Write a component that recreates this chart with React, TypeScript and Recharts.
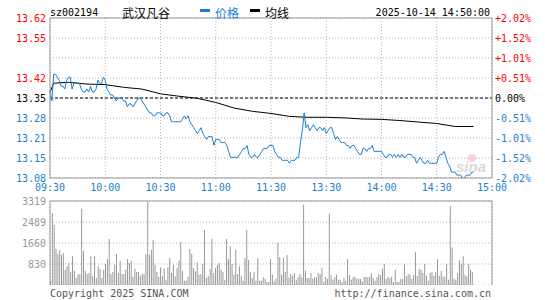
import React from 'react';
import {
  LineChart,
  Line,
  BarChart,
  Bar,
  XAxis,
  YAxis,
  CartesianGrid,
  ReferenceLine,
} from 'recharts';

const stockCode = 'sz002194';
const stockName = '武汉凡谷';
const stamp = '2025-10-14 14:50:00';
const prevClose = 13.35;
const maxPct = 2.02;

const pctTicks = [2.02, 1.515, 1.01, 0.505, 0, -0.505, -1.01, -1.515, -2.02];
// the third grid line carries no price label in the source
const priceLabels = ['13.62', '13.55', '', '13.42', '13.35', '13.28', '13.21', '13.15', '13.08'];
const pctLabels = ['+2.02%', '+1.52%', '+1.01%', '+0.51%', '0.00%', '-0.51%', '-1.01%', '-1.52%', '-2.02%'];

const timeTicks = [0, 30, 60, 90, 120, 150, 180, 210, 240];
const timeLabels = ['09:30', '10:00', '10:30', '11:00', '11:30', '13:30', '14:00', '14:30', '15:00'];

// one value per minute, 09:30 .. 14:50
const price = [
  13.37, 13.34, 13.43, 13.43, 13.42, 13.41, 13.39, 13.39, 13.38, 13.41,
  13.42, 13.42, 13.38, 13.40, 13.40, 13.40, 13.40, 13.38, 13.37, 13.37,
  13.38, 13.37, 13.39, 13.37, 13.37, 13.38, 13.41, 13.40, 13.40, 13.42,
  13.41, 13.38, 13.37, 13.36, 13.36, 13.35, 13.34, 13.35, 13.35, 13.35,
  13.34, 13.34, 13.32, 13.33, 13.33, 13.32, 13.33, 13.34, 13.35, 13.35,
  13.34, 13.33, 13.32, 13.31, 13.30, 13.30, 13.29, 13.29, 13.30, 13.30,
  13.30, 13.29, 13.29, 13.30, 13.30, 13.29, 13.27, 13.27, 13.27, 13.27,
  13.27, 13.27, 13.28, 13.29, 13.28, 13.29, 13.27, 13.26, 13.25, 13.24,
  13.23, 13.24, 13.25, 13.23, 13.22, 13.21, 13.22, 13.22, 13.22, 13.19,
  13.21, 13.21, 13.21, 13.20, 13.20, 13.20, 13.19, 13.17, 13.15, 13.15,
  13.15, 13.15, 13.15, 13.16, 13.17, 13.18, 13.18, 13.19, 13.16, 13.15,
  13.15, 13.16, 13.15, 13.15, 13.16, 13.17, 13.18, 13.18, 13.18, 13.19,
  13.19, 13.19, 13.17, 13.16, 13.15, 13.15, 13.14, 13.14, 13.14, 13.14,
  13.13, 13.14, 13.14, 13.14, 13.15, 13.15, 13.20, 13.24, 13.30, 13.25,
  13.26, 13.24, 13.25, 13.26, 13.25, 13.24, 13.25, 13.25, 13.24, 13.25,
  13.23, 13.24, 13.25, 13.25, 13.23, 13.21, 13.22, 13.21, 13.20, 13.20,
  13.20, 13.19, 13.19, 13.18, 13.19, 13.19, 13.18, 13.17, 13.16, 13.16,
  13.18, 13.18, 13.17, 13.18, 13.18, 13.19, 13.17, 13.17, 13.17, 13.17,
  13.17, 13.16, 13.15, 13.15, 13.16, 13.16, 13.15, 13.16, 13.15, 13.16,
  13.15, 13.16, 13.15, 13.15, 13.16, 13.16, 13.16, 13.15, 13.15, 13.13,
  13.14, 13.15, 13.14, 13.13, 13.13, 13.14, 13.13, 13.13, 13.13, 13.13,
  13.13, 13.15, 13.16, 13.16, 13.17, 13.15, 13.13, 13.12, 13.10, 13.10,
  13.10, 13.09, 13.09, 13.09, 13.08, 13.08, 13.09, 13.09, 13.09, 13.10,
  13.10,
];

// average line, read at a few minutes
const avgIdx = [0, 2, 10, 20, 30, 40, 50, 60, 70, 80, 90, 100, 110, 120, 130, 140, 150, 160, 170, 180, 190, 200, 210, 220, 230];
const avgVal = [
  13.37, 13.40, 13.403, 13.397, 13.395, 13.386, 13.38, 13.364, 13.356, 13.349,
  13.335, 13.316, 13.305, 13.298, 13.288, 13.285, 13.285, 13.283, 13.279, 13.278,
  13.274, 13.269, 13.264, 13.254, 13.254,
];

const volume = [
  171, 2845, 2384, 1436, 1225, 1383, 1198, 1264, 606, 737,
  869, 514, 1133, 566, 277, 408, 435, 3016, 1356, 566,
  435, 474, 1133, 342, 1133, 277, 737, 632, 277, 606,
  830, 1027, 1817, 435, 514, 803, 1225, 474, 961, 435,
  435, 606, 1027, 869, 961, 329, 645, 514, 514, 342,
  435, 435, 1225, 3279, 1198, 1396, 1778, 803, 514, 329,
  698, 342, 645, 211, 698, 1067, 474, 803, 342, 672,
  961, 1699, 566, 171, 171, 329, 1422, 1225, 672, 540,
  896, 408, 435, 830, 2173, 277, 342, 632, 1817, 474,
  672, 803, 869, 606, 514, 211, 1817, 1027, 1528, 830,
  408, 1383, 435, 737, 342, 171, 1067, 2173, 988, 514,
  277, 514, 171, 1067, 171, 171, 303, 250, 118, 118,
  1027, 408, 145, 250, 1659, 1093, 408, 1067, 514, 1185,
  303, 435, 369, 474, 211, 303, 435, 303, 3174, 566,
  277, 277, 474, 250, 303, 303, 474, 435, 672, 118,
  316, 237, 2818, 382, 211, 303, 408, 211, 211, 118,
  277, 171, 1027, 382, 211, 303, 329, 250, 250, 237,
  145, 329, 329, 303, 329, 461, 277, 171, 303, 435,
  382, 645, 830, 250, 329, 277, 329, 118, 606, 118,
  118, 237, 237, 830, 342, 435, 408, 237, 408, 1304,
  369, 645, 606, 474, 830, 369, 171, 474, 514, 369,
  514, 1027, 369, 566, 342, 316, 830, 211, 3108, 1488,
  250, 211, 474, 988, 830, 1133, 408, 342, 830, 606,
  514,
];
const volTicks = [830, 1660, 2489, 3319];

const MONO = '"DejaVu Sans Mono", "Liberation Mono", monospace';
const CJK = '"Noto Sans CJK SC", sans-serif';
const BLUE = '#1a7fd0';
const RED = '#ff0000';
const GRID = '#b4b4b4';
const FRAME = '#999999';

const priceMin = prevClose * (1 - maxPct / 100);
const priceMax = prevClose * (1 + maxPct / 100);
const priceTicks = pctTicks.map((p) => prevClose * (1 + p / 100));

const mainData = price.map((p, i) => {
  const k = avgIdx.indexOf(i);
  return { i, price: p, avg: k >= 0 ? avgVal[k] : null };
});
const volData = Array.from({ length: 241 }, (_, i) => ({
  i,
  v: i < volume.length ? volume[i] : null,
}));

const pctColor = (p: number) => (p > 0 ? RED : p < 0 ? BLUE : '#000');

function PriceTick(props: any) {
  const { x, y, payload } = props;
  const k = priceTicks.findIndex((t) => Math.abs(t - payload.value) < 1e-6);
  if (k < 0 || !priceLabels[k]) return null;
  return (
    <text x={x} y={y} dy={4} textAnchor="end" fill={pctColor(pctTicks[k])} fontSize={10} fontFamily={MONO}>
      {priceLabels[k]}
    </text>
  );
}

function PctTick(props: any) {
  const { x, y, payload } = props;
  const k = pctTicks.indexOf(payload.value);
  if (k < 0) return null;
  return (
    <text x={x} y={y} dy={4} textAnchor="start" fill={pctColor(pctTicks[k])} fontSize={10} fontFamily={MONO}>
      {pctLabels[k]}
    </text>
  );
}

function TimeTick(props: any) {
  const { x, y, payload } = props;
  const k = timeTicks.indexOf(payload.value);
  return (
    <text x={x} y={y} dy={8} textAnchor="middle" fill={BLUE} fontSize={10} fontFamily={MONO}>
      {timeLabels[k]}
    </text>
  );
}

function VolTick(props: any) {
  const { x, y, payload } = props;
  return (
    <text x={x} y={y} dy={4} textAnchor="end" fill="#999" fontSize={10} fontFamily={MONO}>
      {payload.value}
    </text>
  );
}

export default function App() {
  return (
    <div style={{ position: 'absolute', left: 0, top: 0, width: 545, height: 300, background: '#fff' }}>
      <div style={{ position: 'absolute', left: 0, top: 0 }}>
        <LineChart width={545} height={200} data={mainData} margin={{ top: 18, right: 0, bottom: 0, left: 0 }}>
          <CartesianGrid yAxisId="price" stroke={GRID} strokeDasharray="1 2" />
          <XAxis
            dataKey="i"
            type="number"
            domain={[0, 240]}
            ticks={timeTicks}
            interval={0}
            height={22}
            tickLine={false}
            tickSize={0}
            tickMargin={5}
            axisLine={{ stroke: FRAME }}
            tick={<TimeTick />}
          />
          <YAxis
            yAxisId="price"
            domain={[priceMin, priceMax]}
            allowDataOverflow
            ticks={priceTicks}
            interval={0}
            width={50}
            tickLine={false}
            tickSize={0}
            tickMargin={4}
            axisLine={{ stroke: FRAME }}
            tick={<PriceTick />}
          />
          <YAxis
            yAxisId="pct"
            orientation="right"
            domain={[-maxPct, maxPct]}
            allowDataOverflow
            ticks={pctTicks}
            interval={0}
            width={53}
            tickLine={false}
            tickSize={0}
            tickMargin={3}
            axisLine={{ stroke: FRAME }}
            tick={<PctTick />}
          />
          <ReferenceLine yAxisId="price" y={priceMax} stroke={FRAME} />
          <ReferenceLine yAxisId="price" y={prevClose} stroke="#000" strokeDasharray="3 2" />
          <Line
            yAxisId="price"
            dataKey="avg"
            stroke="#000"
            strokeWidth={1}
            dot={false}
            connectNulls
            isAnimationActive={false}
          />
          <Line
            yAxisId="price"
            dataKey="price"
            stroke={BLUE}
            strokeWidth={1}
            dot={false}
            type="linear"
            isAnimationActive={false}
          />
        </LineChart>
      </div>
      <div style={{ position: 'absolute', left: 0, top: 195 }}>
        <BarChart width={545} height={90} data={volData} margin={{ top: 6, right: 0, bottom: 0, left: 0 }} barCategoryGap={0}>
          <CartesianGrid stroke={GRID} strokeDasharray="1 2" />
          <XAxis dataKey="i" ticks={timeTicks} interval={0} height={0} tick={false} tickLine={false} axisLine={{ stroke: FRAME }} />
          <YAxis
            domain={[0, 3319]}
            allowDataOverflow
            ticks={volTicks}
            interval={0}
            width={50}
            tickLine={false}
            tickSize={0}
            tickMargin={4}
            axisLine={{ stroke: FRAME }}
            tick={<VolTick />}
          />
          <YAxis yAxisId="r" orientation="right" domain={[0, 3319]} width={53} tick={false} tickLine={false} axisLine={{ stroke: FRAME }} />
          <ReferenceLine y={3319} stroke={FRAME} />
          <Bar dataKey="v" fill="#999" barSize={1} isAnimationActive={false} />
        </BarChart>
      </div>
      <svg width={545} height={300} style={{ position: 'absolute', left: 0, top: 0, pointerEvents: 'none' }}>
        <text x={50} y={12} dominantBaseline="central" fontSize={10} fontFamily={MONO} fill="#000">{stockCode}</text>
        <text x={122} y={12} dominantBaseline="central" fontSize={12} fontFamily={CJK} fill="#000">{stockName}</text>
        <rect x={200} y={9} width={10} height={3} fill={BLUE} />
        <text x={215} y={12} dominantBaseline="central" fontSize={12} fontFamily={CJK} fill={BLUE}>价格</text>
        <rect x={250} y={9} width={10} height={3} fill="#000" />
        <text x={265} y={12} dominantBaseline="central" fontSize={12} fontFamily={CJK} fill="#000">均线</text>
        <text x={490} y={12} dominantBaseline="central" textAnchor="end" fontSize={10} fontFamily={MONO} fill="#000">{stamp}</text>
        <text x={456} y={172} fontSize={15} fontStyle="italic" fontWeight="bold" fontFamily="Arial, sans-serif" fill="#d0d0d0" opacity={0.8}>sina</text>
        <circle cx={472} cy={158} r={4} fill="#f4c0c0" opacity={0.7} />
        <text x={50} y={293} dominantBaseline="central" fontSize={10} fontFamily={MONO} fill="#555">Copyright 2025 SINA.COM</text>
        <text x={491} y={293} dominantBaseline="central" textAnchor="end" fontSize={10} fontFamily={MONO} fill="#555">http://finance.sina.com.cn</text>
      </svg>
    </div>
  );
}
